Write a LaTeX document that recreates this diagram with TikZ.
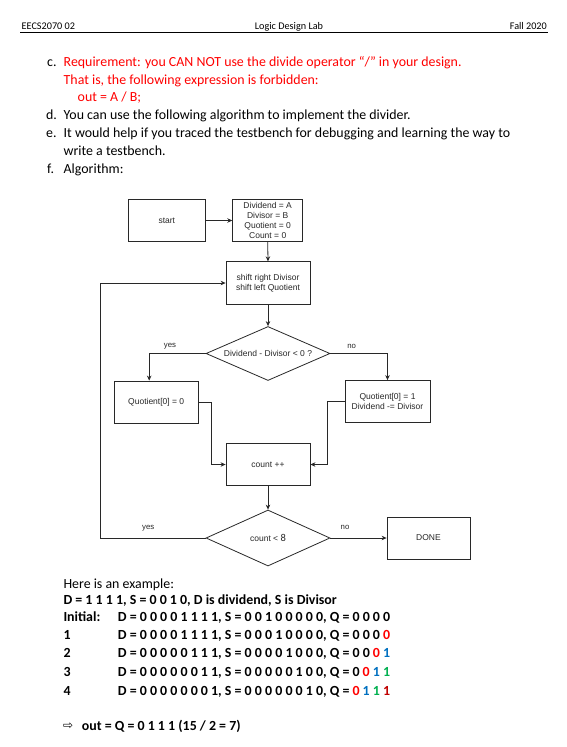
\documentclass[tikz,border=0pt]{standalone}
\usepackage{fontspec}
\setmainfont{Carlito}
\newfontfamily\arialf{Liberation Sans}
\newfontfamily\dejavuf{DejaVu Sans}
\usetikzlibrary{shapes.geometric,arrows.meta}
\definecolor{reqred}{RGB}{255,0,0}
\definecolor{qred}{RGB}{255,0,0}
\definecolor{qblue}{RGB}{0,112,192}
\definecolor{qgreen}{RGB}{0,176,80}
\definecolor{qdark}{RGB}{192,0,0}
\definecolor{flow}{RGB}{40,40,40}
\begin{document}
\begin{tikzpicture}[x=1pt,y=-1pt,
  body/.style={anchor=base west,inner sep=0,font=\fontsize{13.9}{17}\selectfont},
  bodyb/.style={body,font=\bfseries\fontsize{13.9}{17}\selectfont},
  head/.style={inner sep=0,font=\fontsize{10.2}{12}\selectfont},
  fbox/.style={draw=flow,line width=0.8pt,rectangle,inner sep=0,align=center,
    font=\arialf\fontsize{8.5}{9.7}\selectfont,text=flow},
  fdia/.style={fbox,diamond,aspect=2.3},
  conn/.style={draw=flow,line width=0.8pt,-{Stealth[length=5pt,width=4.5pt]}},
  flab/.style={inner sep=0,font=\arialf\fontsize{7.8}{9}\selectfont,text=flow}]
\useasboundingbox (0,0) rectangle (567,747);
\fill[white] (0,0) rectangle (567,747);

% header
\node[head,anchor=base west] (h1) at (21.5,29) {EECS2070 02};
\node[head,anchor=base] (h2) at (289,29) {Logic Design Lab};
\node[head,anchor=base east] (h3) at (547,29) {Fall 2020};
\coordinate (hl) at (20,32.5);
\coordinate (hr) at (548,32.5);
\draw[line width=1.2pt] (hl) -- (hr);

% body text
\node[body] (lc) at (47,66) {c.};
\node[body,text=reqred] (tc) at (63.5,66) {Requirement: you CAN NOT use the divide operator “/” in your design.};
\node[body,text=reqred] (tc2) at (63.5,84) {That is, the following expression is forbidden:};
\node[body,text=reqred] (tc3) at (77.5,101.5) {out = A / B;};
\node[body] (ld) at (46,119.5) {d.};
\node[body] (td) at (63.5,119.5) {You can use the following algorithm to implement the divider.};
\node[body] (le) at (46,137.5) {e.};
\node[body] (te) at (63.5,137.5) {It would help if you traced the testbench for debugging and learning the way to};
\node[body] (te2) at (63.5,155) {write a testbench.};
\node[body] (lf) at (47,173) {f.};
\node[body] (tf) at (63.5,173) {Algorithm:};

% flowchart
\node[fbox,minimum width=77pt,minimum height=42pt] (start) at (166.8,220.5) {start};
\node[fbox,minimum width=70pt,minimum height=42pt] (init) at (267.7,220.5) {Dividend = A\\Divisor = B\\Quotient = 0\\Count = 0};
\node[fbox,minimum width=84pt,minimum height=42.5pt] (shift) at (268,283) {shift right Divisor\\shift left Quotient};
\node[fdia,minimum width=124pt,minimum height=54pt] (d1) at (268,353.5) {Dividend - Divisor < 0 ?};
\node[fbox,minimum width=84pt,minimum height=42pt] (q0) at (156.2,402) {Quotient[0] = 0};
\node[fbox,minimum width=85pt,minimum height=42pt] (q1) at (387.5,401.5) {Quotient[0] = 1\\Dividend -= Divisor};
\node[fbox,minimum width=84pt,minimum height=42.5pt] (cnt) at (268,464.5) {count ++};
\node[fdia,minimum width=124pt,minimum height=56pt] (d2) at (268,538) {count < {\rmfamily\fontsize{10.5}{10}\selectfont 8}};
\node[fbox,minimum width=83pt,minimum height=42pt] (done) at (428.5,538) {DONE};

\coordinate (xl) at (211.7,0);
\coordinate (xr) at (327.7,0);
\coordinate (lp) at (100.5,538);

\draw[conn] (start.east) -- (init.west);
\draw[conn] (init.south) -- (shift.north);
\draw[conn] (shift.south) -- (d1.north);
\draw[conn] (d1.west) -| ([xshift=-7pt]q0.north);
\draw[conn] (d1.east) -| (q1.north);
\draw[conn] (q0.east) -- (q0.east -| xl) |- (cnt.west);
\draw[conn] (q1.west) -- (q1.west -| xr) |- (cnt.east);
\draw[conn] (cnt.south) -- (d2.north);
\draw[conn] (d2.east) -- (done.west);
\draw[conn] (d2.west) -- (lp) |- (shift.west);

\node[flab] (y1) at (170,346) {yes};
\node[flab] (n1) at (351.7,346) {no};
\node[flab] (y2) at (148.3,528) {yes};
\node[flab] (n2) at (345,527.7) {no};

% example
\node[body] (ex) at (63.3,588) {Here is an example:};
\node[bodyb] (ex1) at (63.3,604.5) {D = 1 1 1 1, S = 0 0 1 0, D is dividend, S is Divisor};
\node[bodyb] (r0l) at (63.3,621.7) {Initial:};
\node[bodyb] (r0) at (117.7,621.7) {D = 0 0 0 0 1 1 1 1, S = 0 0 1 0 0 0 0 0, Q = 0 0 0 0};
\node[bodyb] (r1l) at (63.3,639.3) {1};
\node[bodyb] (r1) at (117.7,639.3) {D = 0 0 0 0 1 1 1 1, S = 0 0 0 1 0 0 0 0, Q = 0 0 0 \textcolor{qred}{0}};
\node[bodyb] (r2l) at (63.3,657) {2};
\node[bodyb] (r2) at (117.7,657) {D = 0 0 0 0 0 1 1 1, S = 0 0 0 0 1 0 0 0, Q = 0 0 \textcolor{qred}{0} \textcolor{qblue}{1}};
\node[bodyb] (r3l) at (63.3,676.5) {3};
\node[bodyb] (r3) at (117.7,676.5) {D = 0 0 0 0 0 0 1 1, S = 0 0 0 0 0 1 0 0, Q = 0 \textcolor{qred}{0} \textcolor{qblue}{1} \textcolor{qgreen}{1}};
\node[bodyb] (r4l) at (63.3,695) {4};
\node[bodyb] (r4) at (117.7,695) {D = 0 0 0 0 0 0 0 1, S = 0 0 0 0 0 0 1 0, Q = \textcolor{qred}{0} \textcolor{qblue}{1} \textcolor{qgreen}{1} \textcolor{qdark}{1}};
\node[body] (arr) at (62.8,729.5) {\dejavuf\fontsize{12}{13}\selectfont ⇨};
\node[bodyb] (out) at (81.7,730.5) {out = Q = 0 1 1 1 (15 / 2 = 7)};
\end{tikzpicture}
\end{document}
